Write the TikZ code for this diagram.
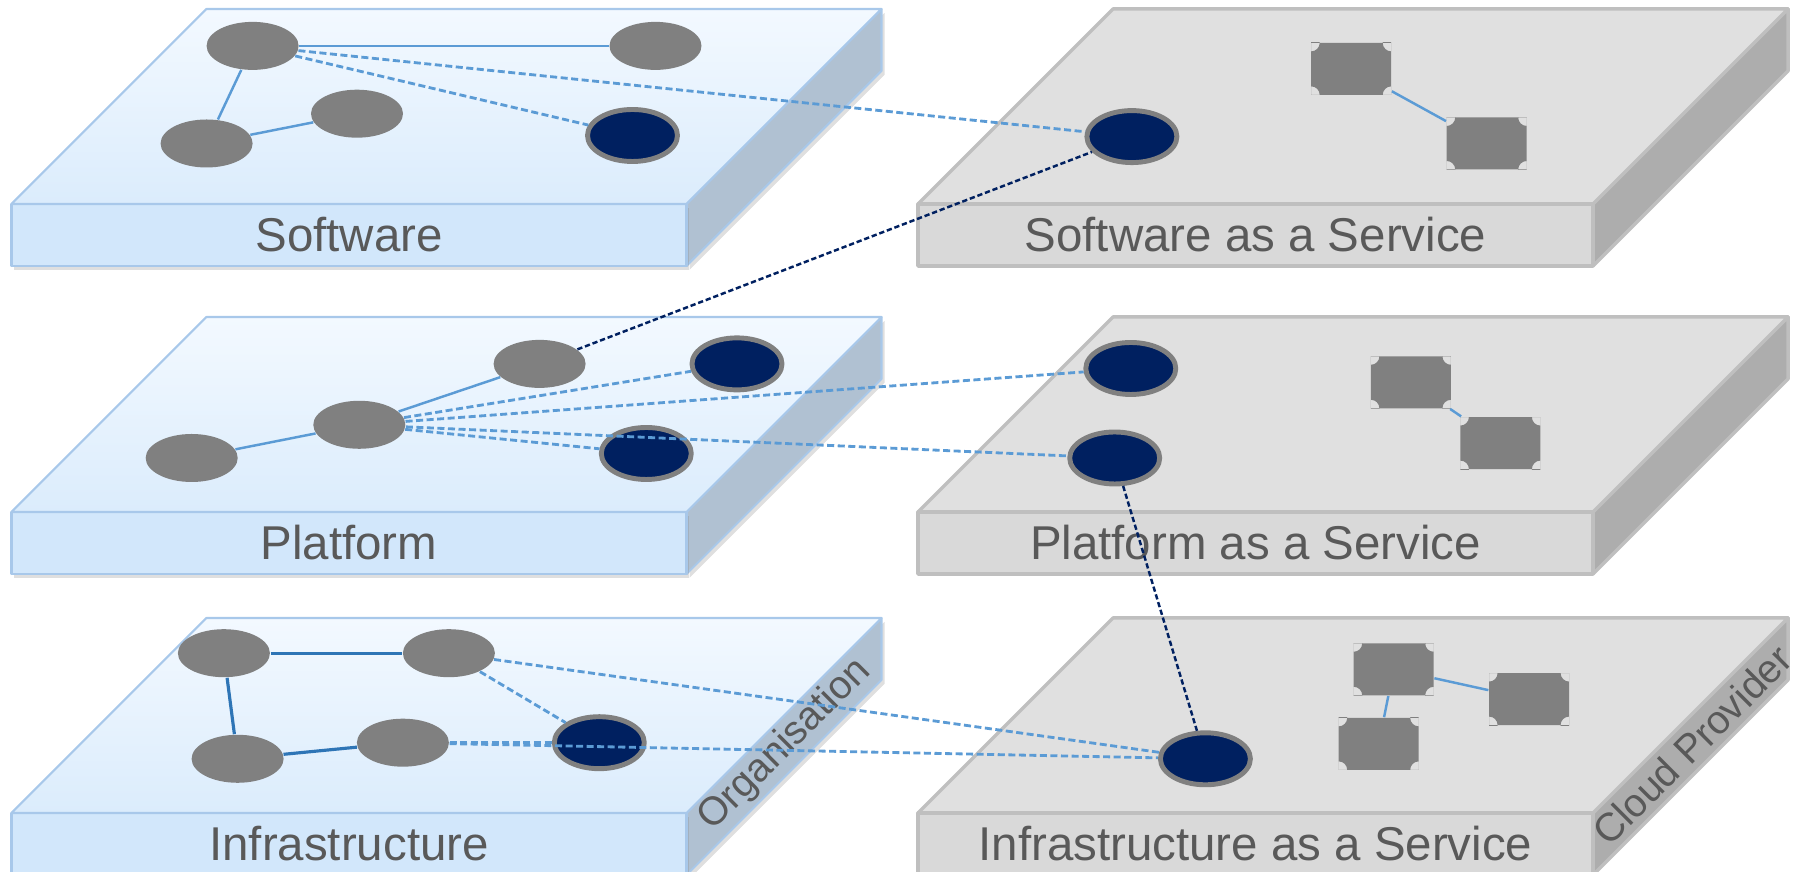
\documentclass[tikz,border=0pt]{standalone}
\usepackage{fontspec}
\setmainfont{Liberation Sans}
\usepackage{xcolor}
\usepackage{tikz}
\usetikzlibrary{shapes.geometric,shadows}

\definecolor{orgtopback}{HTML}{F3F9FF}
\definecolor{orgtopfront}{HTML}{DBECFC}
\definecolor{orgfront}{HTML}{D2E7FB}
\definecolor{orgside}{HTML}{B0C1D2}
\definecolor{orgedge}{HTML}{A8C8EA}
\definecolor{cloudtop}{HTML}{E0E0E0}
\definecolor{cloudfront}{HTML}{D9D9D9}
\definecolor{cloudside}{HTML}{ADADAD}
\definecolor{cloudedge}{HTML}{BFBFBF}
\definecolor{nodegray}{HTML}{808080}
\definecolor{keyblue}{HTML}{002060}
\definecolor{linkblue}{HTML}{5B9BD5}
\definecolor{infrablue}{HTML}{2E75B6}
\definecolor{labelgray}{HTML}{595959}

\begin{document}
\begin{tikzpicture}[line join=round,
  orgtop/.style={draw=orgedge,line width=0.6pt,top color=orgtopback,bottom color=orgtopfront},
  orgfront/.style={draw=orgedge,line width=0.6pt,fill=orgfront,
    drop shadow={opacity=0.25,shadow xshift=0.02cm,shadow yshift=-0.04cm}},
  orgside/.style={draw=orgedge,line width=0.6pt,fill=orgside,
    drop shadow={opacity=0.25,shadow xshift=0.03cm,shadow yshift=-0.04cm}},
  cloudtop/.style={draw=cloudedge,line width=1pt,fill=cloudtop},
  cloudfront/.style={draw=cloudedge,line width=1pt,fill=cloudfront},
  cloudside/.style={draw=cloudedge,line width=1pt,fill=cloudside},
  swnode/.style={ellipse,fill=nodegray,minimum width=0.92cm,minimum height=0.48cm,inner sep=0pt},
  keynode/.style={ellipse,fill=keyblue,draw=nodegray,line width=1.4pt,
    minimum width=0.9cm,minimum height=0.52cm,inner sep=0pt},
  chip/.style={minimum width=0.8cm,minimum height=0.52cm,inner sep=0pt,
    path picture={\fill[nodegray,even odd rule]
      (path picture bounding box.south west) rectangle (path picture bounding box.north east)
      (path picture bounding box.south west) circle (0.085)
      (path picture bounding box.south east) circle (0.085)
      (path picture bounding box.north west) circle (0.085)
      (path picture bounding box.north east) circle (0.085);}},
  link/.style={draw=linkblue,line width=0.7pt},
  infralink/.style={draw=infrablue,line width=0.9pt},
  dlink/.style={draw=linkblue,line width=0.8pt,dash pattern=on 2pt off 1pt},
  nlink/.style={draw=keyblue,line width=0.7pt,dash pattern=on 1.5pt off 0.8pt},
  facelabel/.style={text=labelgray,font=\fontsize{13.5}{16}\selectfont},
  sidelabel/.style={text=labelgray,font=\fontsize{11.3}{13}\selectfont,rotate=45}]
  \useasboundingbox (0,0) rectangle (18,8.72);

  % organisation slabs (left column)
  \draw[orgside] (6.865,6.06) -- (6.865,6.68) -- (8.815,8.63) -- (8.815,8.01) -- cycle;
  \draw[orgfront] (0.115,6.06) rectangle (6.865,6.68);
  \draw[orgtop] (0.115,6.68) -- (2.065,8.63) -- (8.815,8.63) -- (6.865,6.68) -- cycle;

  \draw[orgside] (6.865,2.98) -- (6.865,3.60) -- (8.815,5.55) -- (8.815,4.93) -- cycle;
  \draw[orgfront] (0.115,2.98) rectangle (6.865,3.60);
  \draw[orgtop] (0.115,3.60) -- (2.065,5.55) -- (8.815,5.55) -- (6.865,3.60) -- cycle;

  \draw[orgside] (6.865,-0.03) -- (6.865,0.59) -- (8.815,2.54) -- (8.815,1.92) -- cycle;
  \draw[orgfront] (0.115,-0.03) rectangle (6.865,0.59);
  \draw[orgtop] (0.115,0.59) -- (2.065,2.54) -- (8.815,2.54) -- (6.865,0.59) -- cycle;

  % cloud provider slabs (right column)
  \draw[cloudside] (15.93,6.06) -- (15.93,6.68) -- (17.88,8.63) -- (17.88,8.01) -- cycle;
  \draw[cloudfront] (9.18,6.06) rectangle (15.93,6.68);
  \draw[cloudtop] (9.18,6.68) -- (11.13,8.63) -- (17.88,8.63) -- (15.93,6.68) -- cycle;

  \draw[cloudside] (15.93,2.98) -- (15.93,3.60) -- (17.88,5.55) -- (17.88,4.93) -- cycle;
  \draw[cloudfront] (9.18,2.98) rectangle (15.93,3.60);
  \draw[cloudtop] (9.18,3.60) -- (11.13,5.55) -- (17.88,5.55) -- (15.93,3.60) -- cycle;

  \draw[cloudside] (15.93,-0.03) -- (15.93,0.59) -- (17.88,2.54) -- (17.88,1.92) -- cycle;
  \draw[cloudfront] (9.18,-0.03) rectangle (15.93,0.59);
  \draw[cloudtop] (9.18,0.59) -- (11.13,2.54) -- (17.88,2.54) -- (15.93,0.59) -- cycle;

  % layer names
  \node[facelabel] (lsw) at (3.49,6.37) {Software};
  \node[facelabel] (lpf) at (3.49,3.29) {Platform};
  \node[facelabel] (lif) at (3.49,0.28) {Infrastructure};
  \node[facelabel] (lsaas) at (12.555,6.37) {Software as a Service};
  \node[facelabel] (lpaas) at (12.555,3.29) {Platform as a Service};
  \node[facelabel] (liaas) at (12.555,0.28) {Infrastructure as a Service};
  \node[sidelabel] (lorg) at (7.85,1.27) {Organisation};
  \node[sidelabel] (lcp) at (16.92,1.27) {Cloud Provider};

  % software layer
  \node[swnode] (s1) at (2.526,8.261) {};
  \node[swnode] (s2) at (6.555,8.261) {};
  \node[swnode] (s3) at (2.066,7.285) {};
  \node[swnode] (s4) at (3.570,7.583) {};
  \node[keynode] (s5) at (6.325,7.365) {};
  \node[keynode] (sa1) at (11.319,7.354) {};
  \node[chip] (sa2) at (13.512,8.031) {};
  \node[chip] (sa3) at (14.867,7.285) {};

  % platform layer
  \node[swnode] (p1) at (5.396,5.081) {};
  \node[keynode] (p2) at (7.370,5.081) {};
  \node[swnode] (p3) at (3.593,4.472) {};
  \node[swnode] (p4) at (1.917,4.140) {};
  \node[keynode] (p5) at (6.463,4.185) {};
  \node[keynode] (pa1) at (11.308,5.035) {};
  \node[keynode] (pa2) at (11.147,4.140) {};
  \node[chip] (pa3) at (14.109,4.897) {};
  \node[chip] (pa4) at (15.004,4.289) {};

  % infrastructure layer
  \node[swnode] (i1) at (2.239,2.188) {};
  \node[swnode] (i2) at (4.489,2.188) {};
  \node[swnode] (i3) at (2.376,1.132) {};
  \node[swnode] (i4) at (4.029,1.293) {};
  \node[keynode] (i5) at (5.993,1.293) {};
  \node[keynode] (ia1) at (12.054,1.132) {};
  \node[chip] (ia2) at (13.937,2.027) {};
  \node[chip] (ia3) at (15.291,1.729) {};
  \node[chip] (ia4) at (13.787,1.281) {};

  % solid links inside a layer
  \draw[link] (s1) -- (s2);
  \draw[link] (s1) -- (s3);
  \draw[link] (s3) -- (s4);
  \draw[link] (sa2) -- (sa3);
  \draw[link] (p4) -- (p3);
  \draw[link] (p3) -- (p1);
  \draw[link] (pa3) -- (pa4);
  \draw[infralink] (i1) -- (i2);
  \draw[infralink] (i1) -- (i3);
  \draw[infralink] (i3) -- (i4);
  \draw[link] (ia2) -- (ia3);
  \draw[link] (ia2) -- (ia4);

  % dashed links
  \draw[dlink] (s1) -- (s5);
  \draw[dlink] (s1) -- (sa1);
  \draw[dlink] (p3) -- (p2);
  \draw[dlink] (p3) -- (pa1);
  \draw[dlink] (p3) -- (p5);
  \draw[dlink] (p3) -- (pa2);
  \draw[dlink] (i2) -- (i5);
  \draw[dlink] (i2) -- (ia1);
  \draw[dlink] (i4) -- (i5);
  \draw[dlink] (i4) -- (ia1);
  \draw[nlink] (p1) -- (sa1);
  \draw[nlink] (pa2) -- (ia1);
\end{tikzpicture}
\end{document}
